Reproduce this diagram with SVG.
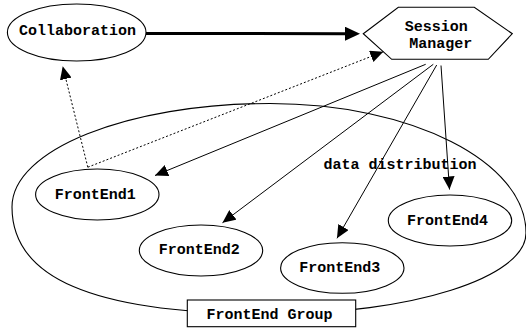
<svg xmlns="http://www.w3.org/2000/svg" width="526" height="331" viewBox="0 0 526 331">
  <style>
    .shape { fill: #fff; stroke: #000; stroke-width: 1.1; }
    .lbl { font-family: "Liberation Mono", "Courier New", monospace; font-weight: bold; font-size: 15px; fill: #000; text-anchor: middle; }
    .edge { fill: none; stroke: #000; stroke-width: 1; }
    .dot { fill: none; stroke: #000; stroke-width: 1; stroke-dasharray: 2 2; }
    .thick { fill: none; stroke: #000; stroke-width: 3; }
  </style>
  <defs>
    <marker id="head" markerUnits="userSpaceOnUse" markerWidth="14" markerHeight="12" refX="13" refY="6" orient="auto">
      <path d="M0,0 L13,6 L0,12 z" fill="#000"/>
    </marker>
    <marker id="headBig" markerUnits="userSpaceOnUse" markerWidth="16" markerHeight="14" refX="0" refY="7" orient="auto">
      <path d="M0,0 L15,7 L0,14 z" fill="#000"/>
    </marker>
  </defs>

  <!-- group outline -->
  <g id="frontend-group">
    <path class="shape" d="M12,207 C12,149.8 127.5,103.5 270,103.5 C411.4,103.5 526,161.5 526,233 C526,277.7 411.4,314 270,314 C89.4,314 12,276.6 12,207 Z"/>
    <rect class="shape" x="187.3" y="300" width="168.4" height="26.7"/>
    <text class="lbl" x="269.5" y="318.5">FrontEnd Group</text>
  </g>

  <g id="collaboration">
    <ellipse class="shape" cx="76.7" cy="32.5" rx="69.3" ry="28.5"/>
    <text class="lbl" x="77.5" y="34.5">Collaboration</text>
  </g>

  <g id="session-manager">
    <polygon class="shape" points="363.3,33.7 398.3,7.3 474.3,7.3 512.3,33.7 488.3,59.3 391.7,59.3"/>
    <text class="lbl"><tspan x="436.2" y="31">Session</tspan><tspan x="440.8" y="48">Manager</tspan></text>
  </g>

  <g id="frontend1">
    <ellipse class="shape" cx="97.3" cy="194.5" rx="61.7" ry="25.5"/>
    <text class="lbl" x="95.2" y="198.6">FrontEnd1</text>
  </g>
  <g id="frontend2">
    <ellipse class="shape" cx="201" cy="250.5" rx="61.7" ry="25.5"/>
    <text class="lbl" x="199.2" y="254.3">FrontEnd2</text>
  </g>
  <g id="frontend3">
    <ellipse class="shape" cx="342.3" cy="268" rx="61.7" ry="25.3"/>
    <text class="lbl" x="339.7" y="272">FrontEnd3</text>
  </g>
  <g id="frontend4">
    <ellipse class="shape" cx="450" cy="220.5" rx="61.7" ry="25.5"/>
    <text class="lbl" x="447.5" y="225">FrontEnd4</text>
  </g>

  <g id="connectors">
    <line class="thick" x1="146" y1="33.5" x2="345" y2="33.7" marker-end="url(#headBig)"/>
    <line class="dot" x1="87.8" y1="167.2" x2="62.7" y2="66.3" marker-end="url(#head)"/>
    <line class="dot" x1="87.8" y1="167.2" x2="383.3" y2="51.7" marker-end="url(#head)"/>
    <line class="edge" x1="425.7" y1="64.3" x2="155" y2="175.5" marker-end="url(#head)"/>
    <line class="edge" x1="433.3" y1="64.3" x2="222.5" y2="222.7" marker-end="url(#head)"/>
    <line class="edge" x1="436.7" y1="65" x2="337" y2="238.3" marker-end="url(#head)"/>
    <line class="edge" x1="441" y1="65.5" x2="449.5" y2="189.5" marker-end="url(#head)"/>
    <text class="lbl" x="400" y="169">data distribution</text>
  </g>
</svg>
